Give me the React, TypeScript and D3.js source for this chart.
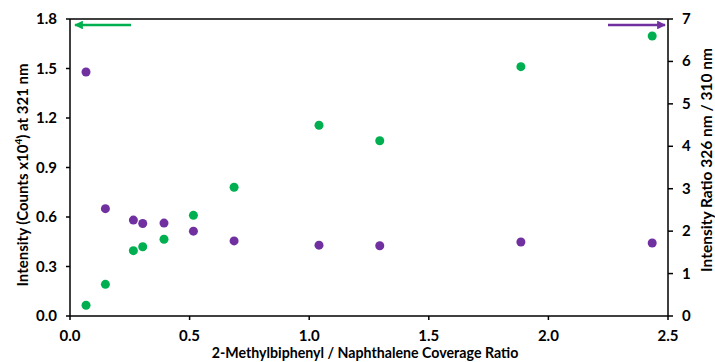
import React from "react";
import * as d3 from "d3";

const coverageRatio = [0.067, 0.148, 0.265, 0.304, 0.393, 0.516, 0.686, 1.041, 1.295, 1.885, 2.434];
const intensity321 = [0.065, 0.192, 0.396, 0.42, 0.465, 0.61, 0.78, 1.156, 1.062, 1.511, 1.697];
const intensityRatio = [5.75, 2.53, 2.26, 2.18, 2.19, 2.0, 1.77, 1.67, 1.657, 1.744, 1.72];
const xTicks = [0, 0.5, 1.0, 1.5, 2.0, 2.5];
const yLeftTicks = [0, 0.3, 0.6, 0.9, 1.2, 1.5, 1.8];
const yRightTicks = [0, 1, 2, 3, 4, 5, 6, 7];

const W = 715, H = 362;
const M = { left: 70, right: 47, top: 19, bottom: 46 };
const GREEN = "#00B050";
const PURPLE = "#7030A0";
const FONT = "Lato, 'Open Sans', sans-serif";

export default function App() {
  const x = d3.scaleLinear().domain([0, 2.5]).range([M.left, W - M.right]);
  const yL = d3.scaleLinear().domain([0, 1.8]).range([H - M.bottom, M.top]);
  const yR = d3.scaleLinear().domain([0, 7]).range([H - M.bottom, M.top]);
  const x0 = x(0), x1 = x(2.5), y0 = yL(0), y1 = yL(1.8);
  const arrowY = y1 + 6;
  return (
    <svg width={W} height={H} style={{ position: "absolute", left: 0, top: 0, background: "#fff" }}
      fontFamily={FONT} fontWeight="bold">
      <defs>
        <marker id="ag" viewBox="0 0 10 10" refX="9" refY="5" markerWidth="3.5" markerHeight="3.5" orient="auto-start-reverse">
          <path d="M0,0 L10,5 L0,10 z" fill={GREEN} />
        </marker>
        <marker id="ap" viewBox="0 0 10 10" refX="9" refY="5" markerWidth="3.5" markerHeight="3.5" orient="auto-start-reverse">
          <path d="M0,0 L10,5 L0,10 z" fill={PURPLE} />
        </marker>
      </defs>
      {/* frame */}
      <line x1={x0} x2={x1} y1={y1} y2={y1} stroke="#000" strokeWidth={1.5} />
      <line x1={x0} x2={x1} y1={y0} y2={y0} stroke="#000" strokeWidth={1.5} />
      <line x1={x0} x2={x0} y1={y0} y2={y1} stroke="#000" strokeWidth={1.5} />
      <line x1={x1} x2={x1} y1={y0} y2={y1} stroke="#000" strokeWidth={1.5} />
      {/* x ticks */}
      {xTicks.map((t) => (
        <g key={"x" + t}>
          <line x1={x(t)} x2={x(t)} y1={y0} y2={y0 + 4} stroke="#000" strokeWidth={1.5} />
          <text x={x(t)} y={y0 + 25} textAnchor="middle" fontSize={15}>{t.toFixed(1)}</text>
        </g>
      ))}
      {yLeftTicks.map((t) => (
        <g key={"l" + t}>
          <line x1={x0 - 4} x2={x0} y1={yL(t)} y2={yL(t)} stroke="#000" strokeWidth={1.5} />
          <text x={x0 - 13} y={yL(t) + 5} textAnchor="end" fontSize={15}>{t.toFixed(1)}</text>
        </g>
      ))}
      {yRightTicks.map((t) => (
        <g key={"r" + t}>
          <line x1={x1} x2={x1 + 5} y1={yR(t)} y2={yR(t)} stroke="#000" strokeWidth={1.5} />
          <text x={x1 + 14} y={yR(t) + 5} textAnchor="start" fontSize={15}>{t}</text>
        </g>
      ))}
      {/* titles */}
      <text x={365} y={358} textAnchor="middle" fontSize={14.2}>
        2-Methylbiphenyl / Naphthalene Coverage Ratio
      </text>
      <text transform={`translate(28,${175}) rotate(-90)`} textAnchor="middle" fontSize={15}>
        Intensity (Counts x10<tspan dy={-6} fontSize={10}>4</tspan><tspan dy={6}>) at 321 nm</tspan>
      </text>
      <text transform={`translate(712,${160}) rotate(-90)`} textAnchor="middle" fontSize={15.5}>
        Intensity Ratio 326 nm / 310 nm
      </text>
      {/* arrows */}
      <line x1={131} x2={75} y1={arrowY} y2={arrowY} stroke={GREEN} strokeWidth={2.5} markerEnd="url(#ag)" />
      <line x1={608} x2={665} y1={arrowY} y2={arrowY} stroke={PURPLE} strokeWidth={2.5} markerEnd="url(#ap)" />
      {/* points */}
      {coverageRatio.map((c, i) => (
        <circle key={"g" + i} cx={x(c)} cy={yL(intensity321[i])} r={4.5} fill={GREEN} />
      ))}
      {coverageRatio.map((c, i) => (
        <circle key={"p" + i} cx={x(c)} cy={yR(intensityRatio[i])} r={4.5} fill={PURPLE} />
      ))}
    </svg>
  );
}
